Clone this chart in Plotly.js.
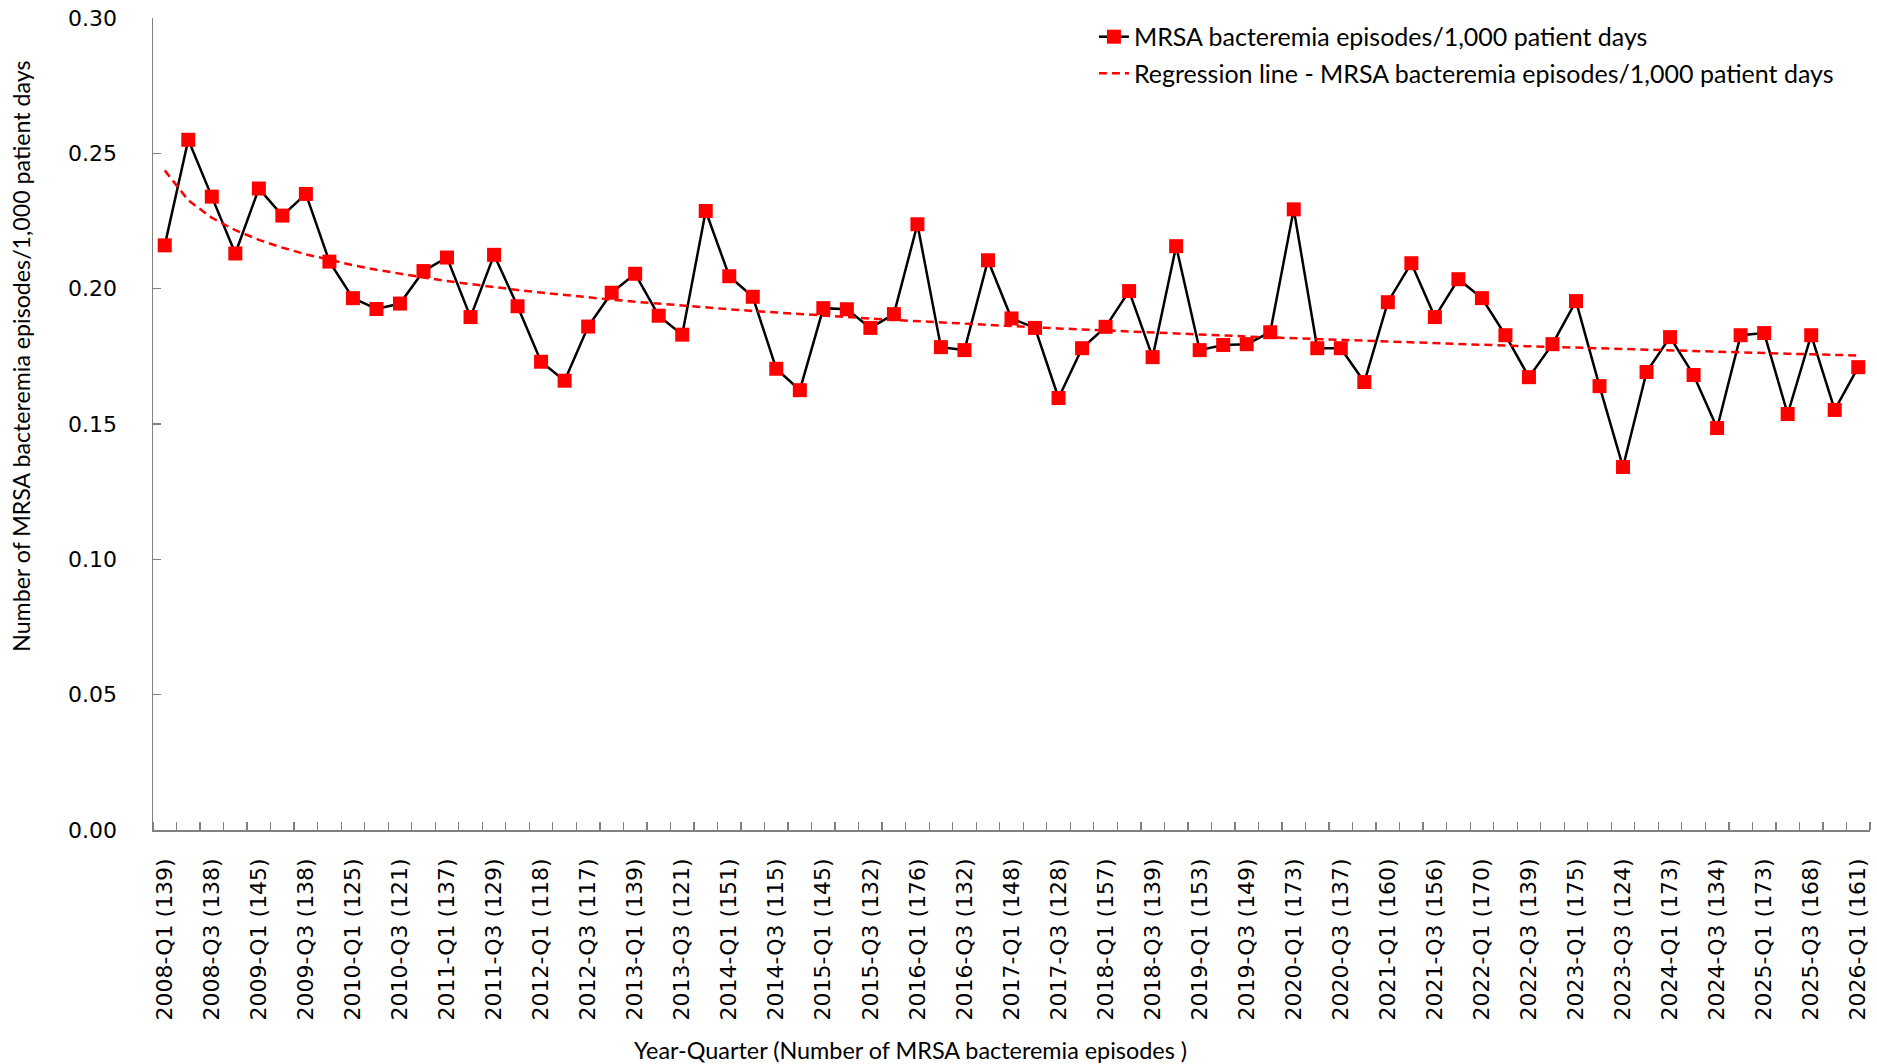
<!DOCTYPE html>
<html>
<head>
<meta charset="utf-8">
<script src="https://cdn.plot.ly/plotly-3.0.1.min.js"></script>
<style>
html,body{margin:0;padding:0;background:#fff;}
#chart{width:1877px;height:1064px;}
</style>
</head>
<body>
<div id="chart"></div>
<script>
// Quarters (categories), one per point
const quarters = [
 "2008-Q1","2008-Q2","2008-Q3","2008-Q4",
 "2009-Q1","2009-Q2","2009-Q3","2009-Q4",
 "2010-Q1","2010-Q2","2010-Q3","2010-Q4",
 "2011-Q1","2011-Q2","2011-Q3","2011-Q4",
 "2012-Q1","2012-Q2","2012-Q3","2012-Q4",
 "2013-Q1","2013-Q2","2013-Q3","2013-Q4",
 "2014-Q1","2014-Q2","2014-Q3","2014-Q4",
 "2015-Q1","2015-Q2","2015-Q3","2015-Q4",
 "2016-Q1","2016-Q2","2016-Q3","2016-Q4",
 "2017-Q1","2017-Q2","2017-Q3","2017-Q4",
 "2018-Q1","2018-Q2","2018-Q3","2018-Q4",
 "2019-Q1","2019-Q2","2019-Q3","2019-Q4",
 "2020-Q1","2020-Q2","2020-Q3","2020-Q4",
 "2021-Q1","2021-Q2","2021-Q3","2021-Q4",
 "2022-Q1","2022-Q2","2022-Q3","2022-Q4",
 "2023-Q1","2023-Q2","2023-Q3","2023-Q4",
 "2024-Q1","2024-Q2","2024-Q3","2024-Q4",
 "2025-Q1","2025-Q2","2025-Q3","2025-Q4",
 "2026-Q1"
];

// MRSA bacteremia episodes per 1,000 patient days
const rates = [
 0.216,0.255,0.234,0.213,
 0.237,0.227,0.235,0.210,
 0.1965,0.1925,0.1945,0.2065,
 0.2115,0.1895,0.2125,0.1935,
 0.173,0.166,0.186,0.1985,
 0.2055,0.190,0.183,0.2287,
 0.2046,0.197,0.1704,0.1625,
 0.1928,0.1924,0.1855,0.1906,
 0.2238,0.1784,0.1773,0.2105,
 0.189,0.1855,0.1596,0.178,
 0.1859,0.1991,0.1747,0.2157,
 0.1773,0.1792,0.1795,0.1839,
 0.2293,0.178,0.178,0.1655,
 0.195,0.2094,0.1895,0.2035,
 0.1965,0.1828,0.1673,0.1795,
 0.1954,0.164,0.1341,0.1692,
 0.1821,0.1681,0.1485,0.1828,
 0.1836,0.1537,0.1828,0.1552,
 0.171
];

// Tick labels shown (every other quarter) with number of episodes
const tickLabels = [
 "2008-Q1 (139)","2008-Q3 (138)","2009-Q1 (145)","2009-Q3 (138)",
 "2010-Q1 (125)","2010-Q3 (121)","2011-Q1 (137)","2011-Q3 (129)",
 "2012-Q1 (118)","2012-Q3 (117)","2013-Q1 (139)","2013-Q3 (121)",
 "2014-Q1 (151)","2014-Q3 (115)","2015-Q1 (145)","2015-Q3 (132)",
 "2016-Q1 (176)","2016-Q3 (132)","2017-Q1 (148)","2017-Q3 (128)",
 "2018-Q1 (157)","2018-Q3 (139)","2019-Q1 (153)","2019-Q3 (149)",
 "2020-Q1 (173)","2020-Q3 (137)","2021-Q1 (160)","2021-Q3 (156)",
 "2022-Q1 (170)","2022-Q3 (139)","2023-Q1 (175)","2023-Q3 (124)",
 "2024-Q1 (173)","2024-Q3 (134)","2025-Q1 (173)","2025-Q3 (168)",
 "2026-Q1 (161)"
];

const yTicks = [0, 0.05, 0.10, 0.15, 0.20, 0.25, 0.30];

const xTitle = "Year-Quarter (Number of MRSA bacteremia episodes )";
const yTitle = "Number of MRSA bacteremia episodes/1,000 patient days";

// ---- build from data ----
const xIdx = quarters.map((q, i) => i);
const tickIdx = quarters.map((q, i) => i).filter(i => quarters[i].endsWith("Q1") || quarters[i].endsWith("Q3"));

// Logarithmic trend line (least squares on ln(period number)), as Excel does
const lx = xIdx.map(i => Math.log(i + 1));
const n = lx.length;
const mx = lx.reduce((a, b) => a + b, 0) / n;
const my = rates.reduce((a, b) => a + b, 0) / n;
let sxy = 0, sxx = 0;
for (let i = 0; i < n; i++) { sxy += (lx[i] - mx) * (rates[i] - my); sxx += (lx[i] - mx) ** 2; }
const slope = sxy / sxx, icpt = my - slope * mx;
const trend = lx.map(v => icpt + slope * v);

const calib = "Lato, 'Open Sans', sans-serif";

const traces = [
 {
  x: xIdx, y: rates, type: "scatter", mode: "lines+markers",
  name: "MRSA bacteremia episodes/1,000 patient days",
  legendgroup: "a",
  line: {color: "#000000", width: 2.5},
  marker: {symbol: "square", size: 14, color: "#FF0000", line: {width: 0}},
  cliponaxis: false
 },
 {
  x: xIdx, y: trend, type: "scatter", mode: "lines",
  name: "Regression line - MRSA bacteremia episodes/1,000 patient days",
  legendgroup: "b",
  line: {color: "#FF0000", width: 2.5, dash: "8px,5px"}
 }
];

const layout = {
 width: 1877, height: 1064,
 margin: {l: 153, r: 7, t: 18, b: 234, pad: 0},
 paper_bgcolor: "#ffffff", plot_bgcolor: "#ffffff",
 showlegend: true,
 legend: {
  x: 0.548, y: 1.005, xanchor: "left", yanchor: "top",
  bgcolor: "rgba(0,0,0,0)",
  font: {family: calib, size: 25, color: "#000"},
  tracegroupgap: 1
 },
 xaxis: {
  type: "linear",
  range: [-0.5, quarters.length - 0.5],
  tickvals: tickIdx,
  ticktext: tickLabels,
  tickangle: -90,
  ticks: "",
  ticklabelstandoff: 18,
  tickfont: {family: "DejaVu Sans", size: 22, color: "#000"},
  minor: {
   tickvals: quarters.map((q, i) => i + 0.5).concat([-0.5]),
   ticks: "inside", ticklen: 8, tickwidth: 1.3, tickcolor: "#808080"
  },
  showgrid: false, zeroline: false,
  showline: true, linecolor: "#808080", linewidth: 1.5,
  automargin: false, fixedrange: true
 },
 yaxis: {
  range: [0, 0.30],
  tickvals: yTicks,
  tickformat: ".2f",
  ticks: "inside", ticklen: 8, tickwidth: 1.3, tickcolor: "#808080",
  ticklabelstandoff: 30,
  tickfont: {family: "DejaVu Sans", size: 22, color: "#000"},
  showgrid: false, zeroline: false,
  showline: true, linecolor: "#808080", linewidth: 1.5,
  automargin: false, fixedrange: true
 },
 annotations: [
  {text: xTitle, xref: "paper", yref: "paper", x: 0.4409, y: -0.2705,
   xanchor: "center", yanchor: "middle", showarrow: false,
   font: {family: calib, size: 23.4, color: "#000"}},
  {text: yTitle, xref: "paper", yref: "paper", x: -0.0765, y: 0.5835,
   xanchor: "center", yanchor: "middle", showarrow: false, textangle: -90,
   font: {family: calib, size: 23.2, color: "#000"}}
 ]
};

Plotly.newPlot("chart", traces, layout, {displayModeBar: false, staticPlot: true});
</script>
</body>
</html>
